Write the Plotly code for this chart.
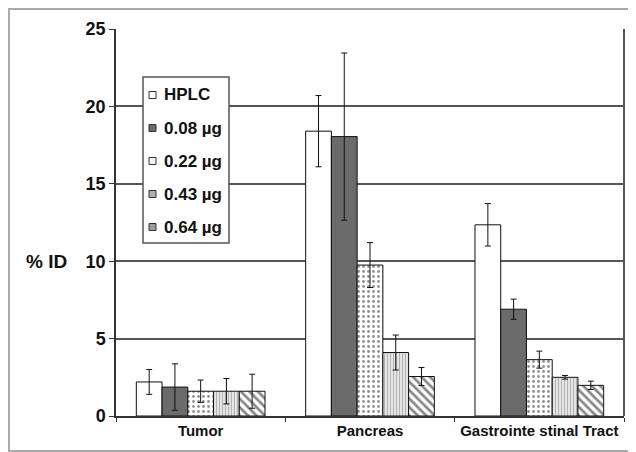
import plotly.graph_objects as go

categories = ["Tumor", "Pancreas", "Gastrointe stinal Tract"]
series_names = ["HPLC", "0.08 µg", "0.22 µg", "0.43 µg", "0.64 µg"]
hplc = [2.2, 18.4, 12.35]
hplc_err = [0.8, 2.3, 1.37]
d008 = [1.87, 18.05, 6.9]
d008_err = [1.5, 5.4, 0.65]
d022 = [1.6, 9.75, 3.64]
d022_err = [0.72, 1.45, 0.55]
d043 = [1.6, 4.1, 2.5]
d043_err = [0.82, 1.13, 0.12]
d064 = [1.6, 2.55, 1.98]
d064_err = [1.1, 0.58, 0.27]
y_ticks = [0, 5, 10, 15, 20, 25]

values = [hplc, d008, d022, d043, d064]
errors = [hplc_err, d008_err, d022_err, d043_err, d064_err]
styles = [
    dict(color="white"),
    dict(color="#6b6b6b"),
    dict(color="white", pattern=dict(shape=".", fgcolor="#222", bgcolor="white", size=5, solidity=0.25)),
    dict(color="white", pattern=dict(shape="|", fgcolor="#777", bgcolor="#eeeeee", size=3, solidity=0.45)),
    dict(color="white", pattern=dict(shape="\\", fgcolor="#111", bgcolor="white", size=6, solidity=0.45)),
]
legend_swatch = ["white", "#6b6b6b", "#f4f4f4", "#b0b0b0", "#9a9a9a"]

font = "Liberation Sans, Arial, sans-serif"
# page is rendered with an 8px body margin
OFF = 8
W, H = 628, 444
PL, PR, PT, PB = 116, 624, 29, 416  # plot area in page pixels
l, t = PL - OFF, PT - OFF
r = W - (PR - OFF)
b = H - (PB - OFF)
pw, ph = PR - PL, PB - PT


def px_x(x):
    return (x - PL) / pw


def px_y(y):
    return (PB - y) / ph


fig = go.Figure()
for i, (name, v, e, st) in enumerate(zip(series_names, values, errors, styles)):
    fig.add_trace(go.Bar(
        x=categories, y=v, name=name, showlegend=False,
        marker=dict(**st, line=dict(color="#111", width=1)),
        error_y=dict(type="data", array=e, visible=True, color="#111", thickness=1, width=3),
    ))

shapes = [
    dict(type="line", xref="paper", yref="paper", x0=1, x1=1, y0=0, y1=1,
         line=dict(color="#555", width=2)),
    dict(type="rect", xref="paper", yref="paper",
         x0=px_x(9), x1=px_x(660), y0=px_y(451), y1=px_y(9),
         line=dict(color="#aaa", width=2), layer="below"),
    # legend box
    dict(type="rect", xref="paper", yref="paper",
         x0=px_x(143), x1=px_x(229), y0=px_y(243), y1=px_y(77),
         line=dict(color="#555", width=1.5), fillcolor="white", layer="above"),
]
annotations = [
    dict(text="<b>% ID</b>", xref="paper", yref="paper", x=px_x(46), y=px_y(261),
         xanchor="center", yanchor="middle", showarrow=False,
         font=dict(family=font, size=19, color="#111")),
]
legend_y = [95, 128, 161, 194, 227]
for name, sw, yy in zip(series_names, legend_swatch, legend_y):
    shapes.append(dict(type="rect", xref="paper", yref="paper",
                       x0=px_x(149), x1=px_x(156), y0=px_y(yy + 3.5), y1=px_y(yy - 3.5),
                       line=dict(color="#333", width=1), fillcolor=sw, layer="above"))
    annotations.append(dict(text="<b>" + name + "</b>", xref="paper", yref="paper",
                            x=px_x(162), y=px_y(yy), xanchor="left", yanchor="middle",
                            showarrow=False, font=dict(family=font, size=17, color="#111")))

fig.update_layout(
    width=W, height=H,
    margin=dict(l=l, r=r, t=t, b=b, autoexpand=False),
    paper_bgcolor="white", plot_bgcolor="white",
    barmode="group", bargap=0.24, bargroupgap=0,
    font=dict(family=font, color="#111"),
    showlegend=False,
    xaxis=dict(
        showgrid=False, showline=True, linecolor="#333", linewidth=1.5,
        ticks="outside", tickson="boundaries", ticklen=4, tickcolor="#333",
        tickfont=dict(family=font, size=15, color="#111", weight="bold"),
    ),
    yaxis=dict(
        range=[0, 25], tickvals=y_ticks, showgrid=True, gridcolor="#555", gridwidth=1.5,
        showline=True, linecolor="#333", linewidth=1.5,
        ticks="outside", ticklen=5, tickcolor="#333",
        tickfont=dict(family=font, size=18, color="#111", weight="bold"),
        zeroline=False,
    ),
    shapes=shapes,
    annotations=annotations,
)

fig.write_html("out.html")
